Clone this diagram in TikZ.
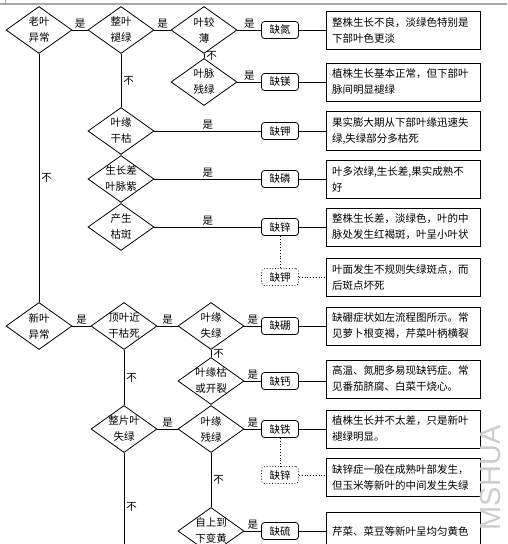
\documentclass[tikz,border=0pt]{standalone}
\usepackage{fontspec}
\newfontfamily\cjk{Noto Sans CJK SC}
\newfontfamily\marksans{Liberation Sans}
\usepackage{tikz}
\usetikzlibrary{shapes.geometric, arrows.meta, positioning}

\begin{document}
\begin{tikzpicture}[
        x=1pt, y=-1pt,
        line width=0.8pt,
        font=\cjk\fontsize{10.5pt}{16pt}\selectfont,
        testbox/.style={draw, diamond, aspect=1.4, minimum width=66pt, minimum height=47pt, inner sep=-1pt, align=center},
        lackbox/.style={draw, rectangle, rounded corners=3pt, minimum width=37pt, minimum height=17pt, inner sep=1pt},
        maybebox/.style={lackbox, dotted},
        notebox/.style={draw, rectangle, text width=142pt, minimum height=38pt, inner sep=6pt, align=left},
        yeslabel/.style={above, inner sep=1.5pt},
        nolabel/.style={right, inner sep=2pt}
    ]
        \useasboundingbox (0,0) rectangle (507,544);
        \clip (0,0) rectangle (507,544);
        \draw[gray!70, line width=1.5pt] (0,4) -- (507,4);
        \draw[gray!70, line width=1pt] (5,0) -- (5,4);

        %老叶异常
        \node[testbox] (old) at (39,30) {老叶\\异常};
        \node[testbox] (whole) at (121,30) {整叶\\褪绿};
        \node[testbox] (thin) at (204,30) {叶较\\薄};
        \node[testbox] (vein) at (204,82) {叶脉\\残绿};
        \node[testbox] (edge) at (121,131) {叶缘\\干枯};
        \node[testbox] (purple) at (121,179) {生长差\\叶脉紫};
        \node[testbox] (spot) at (121,227) {产生\\枯斑};

        \node[lackbox] (n) at (280,30) {缺氮};
        \node[lackbox] (mg) at (280,82) {缺镁};
        \node[lackbox] (k) at (280,131) {缺钾};
        \node[lackbox] (p) at (280,179) {缺磷};
        \node[lackbox] (zn) at (280,227) {缺锌};
        \node[maybebox] (k2) at (280,277) {缺钾};

        \node[notebox] (nnote) at (403,30) {整株生长不良，淡绿色特别是\\下部叶色更淡};
        \node[notebox] (mgnote) at (403,82) {植株生长基本正常，但下部叶\\脉间明显褪绿};
        \node[notebox] (knote) at (403,131) {果实膨大期从下部叶缘迅速失\\绿,失绿部分多枯死};
        \node[notebox] (pnote) at (403,179) {叶多浓绿,生长差,果实成熟不\\好};
        \node[notebox] (znnote) at (403,227) {整株生长差，淡绿色，叶的中\\脉处发生红褐斑，叶呈小叶状};
        \node[notebox] (k2note) at (403,277) {叶面发生不规则失绿斑点，而\\后斑点坏死};

        % 新叶异常
        \node[testbox] (new) at (39,326) {新叶\\异常};
        \node[testbox] (top) at (124,326) {顶叶近\\干枯死};
        \node[testbox] (loss) at (211,326) {叶缘\\失绿};
        \node[testbox] (crack) at (211,381) {叶缘枯\\或开裂};
        \node[testbox] (blade) at (124,429) {整片叶\\失绿};
        \node[testbox] (rest) at (211,429) {叶缘\\残绿};
        \node[testbox] (down) at (211,531) {自上到\\下变黄};
        \coordinate (bladeend) at (124,560);

        \node[lackbox] (b) at (280,326) {缺硼};
        \node[lackbox] (ca) at (280,381) {缺钙};
        \node[lackbox] (fe) at (280,429) {缺铁};
        \node[maybebox] (zn2) at (280,475) {缺锌};
        \node[lackbox] (s) at (280,531) {缺硫};

        \node[notebox] (bnote) at (403,326) {缺硼症状如左流程图所示。常\\见萝卜根变褐，芹菜叶柄横裂};
        \node[notebox] (canote) at (403,379) {高温、氮肥多易现缺钙症。常\\见番茄脐腐、白菜干烧心。};
        \node[notebox] (fenote) at (403,429) {植株生长并不太差，只是新叶\\褪绿明显。};
        \node[notebox] (zn2note) at (403,477) {缺锌症一般在成熟叶部发生，\\但玉米等新叶的中间发生失绿};
        \node[notebox] (snote) at (403,531) {芹菜、菜豆等新叶呈均匀黄色\\};

        % 连线
        \draw (old) -- node[yeslabel]{是} (whole);
        \draw (whole) -- node[yeslabel]{是} (thin);
        \draw (thin) -- node[yeslabel]{是} (n);
        \draw (thin) -- node[nolabel]{不} (vein);
        \draw (vein) -- node[yeslabel]{是} (mg);
        \draw (whole) -- node[nolabel]{不} (edge);
        \draw (edge) -- node[yeslabel]{是} (k);
        \draw (purple) -- node[yeslabel]{是} (p);
        \draw (spot) -- node[yeslabel]{是} (zn);
        \draw[dotted] (zn) -- (k2);
        \draw (old) -- node[nolabel]{不} (new);

        \draw (new) -- node[yeslabel]{是} (top);
        \draw (top) -- node[yeslabel]{是} (loss);
        \draw (loss) -- node[yeslabel]{是} (b);
        \draw (loss) -- node[nolabel]{不} (crack);
        \draw (crack) -- node[yeslabel]{是} (ca);
        \draw (top) -- node[nolabel]{不} (blade);
        \draw (blade) -- node[yeslabel]{是} (rest);
        \draw (blade) -- node[nolabel]{不} (bladeend);
        \draw (rest) -- node[yeslabel]{是} (fe);
        \draw (rest) -- node[nolabel]{不} (down);
        \draw (down) -- node[yeslabel]{是} (s);
        \draw[dotted] (fe) -- (zn2);

        \draw (n) -- (n -| nnote.west);
        \draw (mg) -- (mg -| mgnote.west);
        \draw (k) -- (k -| knote.west);
        \draw (p) -- (p -| pnote.west);
        \draw (zn) -- (zn -| znnote.west);
        \draw[dotted] (k2) -- (k2 -| k2note.west);
        \draw (b) -- (b -| bnote.west);
        \draw (ca) -- (ca -| canote.west);
        \draw (fe) -- (fe -| fenote.west);
        \draw[dotted] (zn2) -- (zn2 -| zn2note.west);
        \draw (s) -- (s -| snote.west);

        % 水印
        \node[rotate=90, font=\marksans\fontsize{29pt}{29pt}\selectfont, text=gray!40] (mark) at (491,478) {MSHUA};
    \end{tikzpicture}
\end{document}
